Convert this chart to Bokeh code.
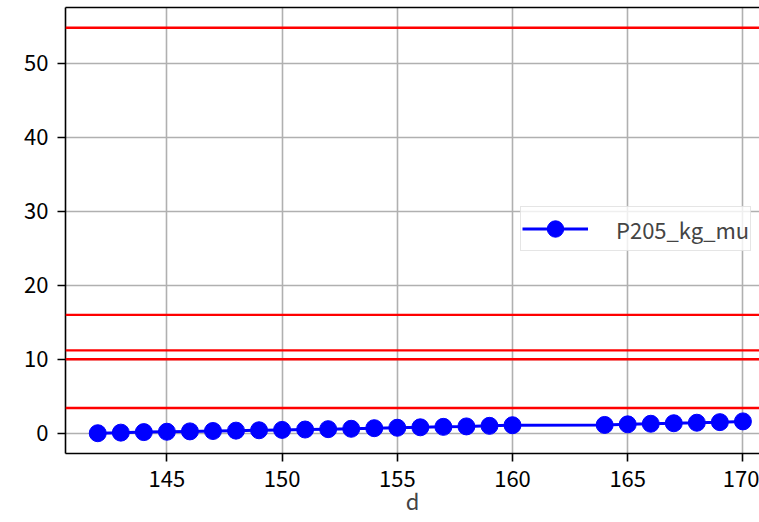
from bokeh.plotting import figure
from bokeh.models import (Range1d, FixedTicker, Span, Legend, LegendItem, LinearAxis)
from bokeh.embed import file_html
from bokeh.resources import INLINE

# data
d_values = [142, 143, 144, 145, 146, 147, 148, 149, 150, 151, 152, 153, 154, 155,
            156, 157, 158, 159, 160, 164, 165, 166, 167, 168, 169, 170]
p205_kg_mu = [0.0, 0.08, 0.15, 0.2, 0.25, 0.3, 0.35, 0.4, 0.45, 0.5, 0.55, 0.6, 0.68, 0.74,
              0.8, 0.86, 0.92, 1.0, 1.08, 1.12, 1.2, 1.28, 1.35, 1.42, 1.5, 1.6]
threshold_lines = [3.4, 10.0, 11.2, 16.0, 54.8]
x_ticks = [145, 150, 155, 160, 165, 170]
y_ticks = [0, 10, 20, 30, 40, 50]
x_label = "d"

FONT = "Noto Sans CJK JP"
FS = "22px"

p = figure(frame_width=694, frame_height=446, output_backend="svg", toolbar_location=None,
           x_range=Range1d(140.6, 170.72), y_range=Range1d(-2.74, 57.54),
           min_border_left=65, min_border_right=0, min_border_top=7, min_border_bottom=10)
p.outline_line_color = None
p.background_fill_color = "white"
p.border_fill_color = "white"

for ax in (p.xaxis[0], p.yaxis[0]):
    ax.axis_line_color = "black"
    ax.axis_line_width = 1.6
    ax.major_tick_line_color = "black"
    ax.major_tick_line_width = 1.6
    ax.major_tick_out = 8
    ax.major_tick_in = 0
    ax.minor_tick_line_color = None
    ax.major_label_text_font = FONT
    ax.major_label_text_font_size = FS
    ax.major_label_text_color = "black"

p.xaxis[0].ticker = FixedTicker(ticks=x_ticks)
p.yaxis[0].ticker = FixedTicker(ticks=y_ticks)
p.xaxis[0].major_label_standoff = 9
p.yaxis[0].major_label_standoff = 9
p.xaxis[0].axis_label = x_label
p.xaxis[0].axis_label_text_font = FONT
p.xaxis[0].axis_label_text_font_size = FS
p.xaxis[0].axis_label_text_font_style = "normal"
p.xaxis[0].axis_label_standoff = -6

top = LinearAxis(ticker=FixedTicker(ticks=[]), axis_line_color="black", axis_line_width=1.6,
                 major_tick_out=0, major_tick_in=0, minor_tick_out=0, minor_tick_in=0,
                 major_label_text_font_size="0px")
p.add_layout(top, "above")

p.grid.grid_line_color = "#b0b0b0"
p.grid.grid_line_width = 1.6
p.xgrid.ticker = FixedTicker(ticks=x_ticks)
p.ygrid.ticker = FixedTicker(ticks=y_ticks)

for yv in threshold_lines:
    p.add_layout(Span(location=yv, dimension="width", line_color="red", line_width=2.4))

ln = p.line(d_values, p205_kg_mu, line_color="blue", line_width=3)
sc = p.scatter(d_values, p205_kg_mu, size=17, fill_color="blue", line_color="blue")

legend = Legend(items=[LegendItem(label="P205_kg_mu", renderers=[ln, sc])],
                location=(455, 202), glyph_width=66, glyph_height=41, label_standoff=28,
                padding=1, margin=0, spacing=0,
                label_text_font=FONT, label_text_font_size=FS,
                border_line_color="#cccccc", border_line_width=1.5,
                background_fill_color="white", background_fill_alpha=0.8)
p.add_layout(legend, "center")

open("out.html", "w").write(file_html(p, INLINE))
